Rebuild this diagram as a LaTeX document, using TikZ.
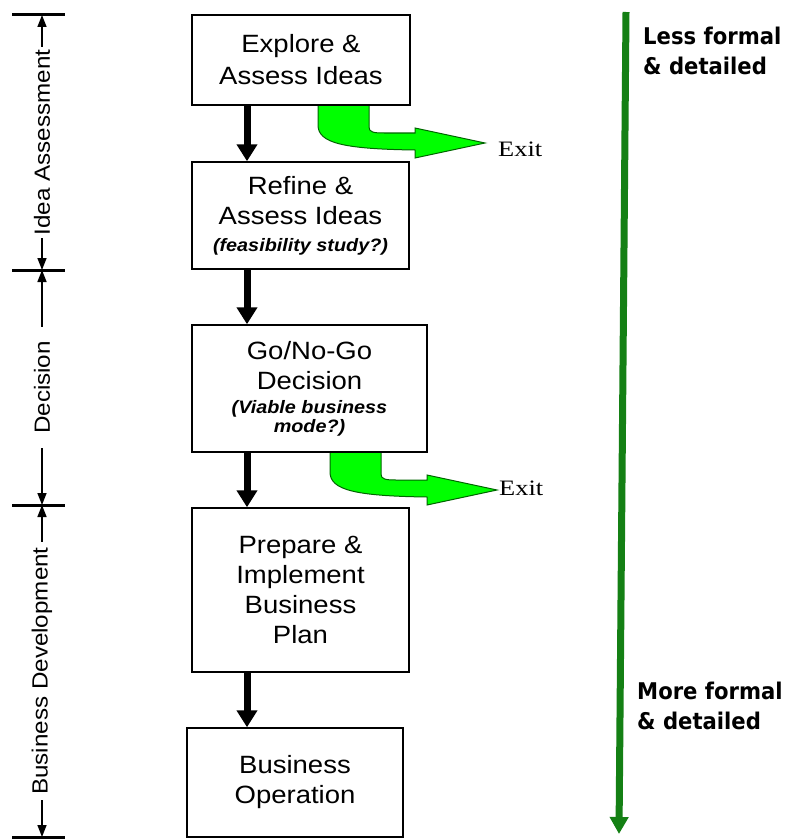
\documentclass[tikz,border=0pt]{standalone}
\usepackage{fontspec}
\setmainfont{Liberation Sans}[FakeStretch=1.1]
\newfontfamily\exitfont{Liberation Serif}[FakeStretch=1.2]
\newfontfamily\trendfont{DejaVu Sans}[FakeStretch=0.92]
\usetikzlibrary{arrows.meta}
\definecolor{exitgreen}{RGB}{0,255,0}
\definecolor{exitedge}{RGB}{0,100,0}
\definecolor{trendgreen}{RGB}{20,128,20}
\newcommand{\stagenote}{\fontsize{18}{20}\selectfont\bfseries\itshape}
\begin{document}
\begin{tikzpicture}[x=10pt,y=10pt]
    \tikzstyle{every node}+=[inner sep=0pt]
    \tikzstyle{stage}=[draw=black, line width=1.5pt, fill=white, align=center, font=\fontsize{25}{30}\selectfont]
    \tikzstyle{flow}=[line width=7pt, -{Triangle[width=20pt,length=17pt]}]
    \tikzstyle{phase}=[line width=1.5pt, {Triangle[width=9pt,length=12pt]}-{Triangle[width=9pt,length=12pt]}]
    \tikzstyle{phaselabel}=[fill=white, rotate=90, inner xsep=3pt, font=\fontsize{22}{26}\selectfont]
    \tikzstyle{tick}=[line width=3pt]
    \tikzstyle{trend}=[trendgreen, line width=7pt, -{Triangle[width=18pt,length=17pt]}]
    \tikzstyle{trendlabel}=[anchor=west, align=left, font=\trendfont\bfseries\fontsize{23}{30}\selectfont]
    \tikzstyle{exitlabel}=[anchor=base west, font=\exitfont\fontsize{22}{26}\selectfont]
    \tikzset{exitarrow/.pic={
        \draw [exitedge, fill=exitgreen, line width=1pt] (0,0) -- (5.1,0) -- (5.1,-2.2)
            .. controls (5.1,-2.7) and (5.5,-2.8) .. (6.6,-2.8) -- (9.7,-2.8) -- (9.7,-2.3)
            -- (16.7,-3.8) -- (9.7,-5.3) -- (9.7,-4.5)
            .. controls (2.5,-4.4) and (0,-3.8) .. (0,-2.0) -- cycle;
    }}
    \useasboundingbox (0,0) rectangle (78.6,-84);
    % exits
    \pic (exitA) at (31.8,-10.5) {exitarrow};
    \pic (exitB) at (33.0,-45.2) {exitarrow};
    \node [exitlabel] (exitAtext) at (49.8,-15.7) {Exit};
    \node [exitlabel] (exitBtext) at (49.9,-49.5) {Exit};
    % stages
    \node [stage, minimum width=218pt, minimum height=90pt] (explore) at (30.1,-6.0) {Explore \&\\[2pt]Assess Ideas};
    \node [stage, minimum width=217pt, minimum height=107pt] (refine) at (30.05,-21.55) {Refine \&\\Assess Ideas\\[-3pt]\stagenote (feasibility study?)};
    \node [stage, minimum width=235pt, minimum height=127pt] (gonogo) at (30.95,-38.85) {Go/No-Go\\Decision\\[-6pt]\stagenote (Viable business\\[-11pt]\stagenote mode?)};
    \node [stage, minimum width=217pt, minimum height=164pt] (prepare) at (30.05,-59.0) {Prepare \&\\Implement\\Business\\Plan};
    \node [stage, minimum width=216pt, minimum height=109pt] (operation) at (29.5,-78.25) {Business\\Operation};
    \coordinate (flowx) at (24.7,0);
    \draw [flow] (explore.south -| flowx) -- (refine.north -| flowx);
    \draw [flow] (refine.south -| flowx) -- (gonogo.north -| flowx);
    \draw [flow] (gonogo.south -| flowx) -- (prepare.north -| flowx);
    \draw [flow] (prepare.south -| flowx) -- (operation.north -| flowx);
    % phases
    \coordinate (tickA) at (4.2,-1.5);
    \coordinate (tickB) at (4.2,-27.0);
    \coordinate (tickC) at (4.2,-50.5);
    \coordinate (tickD) at (4.2,-83.7);
    \foreach \t in {tickA,tickB,tickC,tickD}
        \draw [tick] ([xshift=-30pt]\t) -- ([xshift=23pt]\t);
    \draw [phase] (tickA) -- (tickB) node [phaselabel, midway] (ideaphase) {Idea Assessment};
    \draw [phase] (tickB) -- (tickC) node [phaselabel, midway, inner xsep=14pt] (decisionphase) {Decision};
    \draw [phase] (tickC) -- (tickD) node [phaselabel, midway, inner xsep=5pt] (businessphase) {Business Development};
    % trend
    \coordinate (trendtop) at (62.6,-1.2);
    \coordinate (trendend) at (61.9,-83.4);
    \draw [trend] (trendtop) -- (trendend);
    \node [trendlabel] (lessformal) at (64.3,-5.13) {Less formal\\\& detailed};
    \node [trendlabel] (moreformal) at (63.7,-70.6) {More formal\\\& detailed};
\end{tikzpicture}
\end{document}
